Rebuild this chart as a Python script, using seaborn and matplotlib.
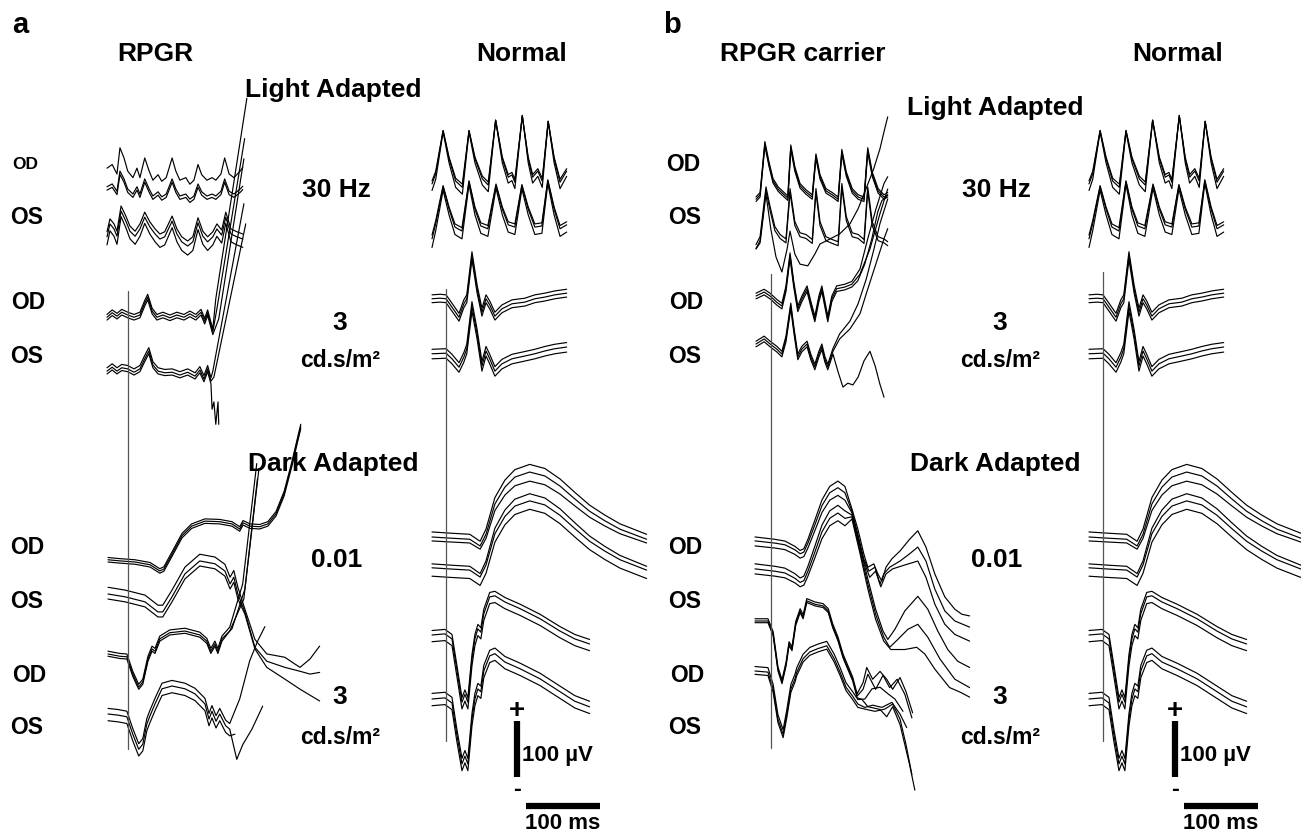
import numpy as np
import pandas as pd
import matplotlib
matplotlib.use("Agg")
import matplotlib.pyplot as plt
import seaborn as sns

# ---------------- calibration (scale bars) ----------------
PX_PER_MS = 0.74     # 100 ms  = 74 px
PX_PER_UV = 0.56     # 100 uV  = 56 px

# Normal, light adapted 30 Hz flicker
NORM_30HZ_OD_T = [0, 5, 15, 23, 32, 41, 50, 58, 68, 76, 86, 95, 103, 108, 112, 122, 130, 136, 143, 149, 157, 165, 173, 182]
NORM_30HZ_OD_V = [-7, 11, 88, 38, -2, -13, 88, 38, 2, -9, 107, 38, 5, 9, -4, 115, 38, 5, 16, -2, 105, 38, -4, 16]
NORM_30HZ_OD_OFF = [5, 0, -11]
NORM_30HZ_OD_GAIN = [0.95, 1.0, 1.1]

NORM_30HZ_OS_T = [0, 5, 15, 23, 31, 40.5, 50, 58, 66, 75.5, 86.5, 95, 103, 112, 121.5, 130, 139, 148.5, 156.5, 165, 173, 182]
NORM_30HZ_OS_V = [-14, 13, 79, 39, 7, 0, 88, 39, 9, 4, 82, 39, 11, 7, 81, 39, 7, 9, 90, 39, 4, 11]
NORM_30HZ_OS_OFF = [6, 0, -14]
NORM_30HZ_OS_GAIN = [0.95, 1.0, 1.1]

# Normal, light adapted 3 cd.s/m2
NORM_LA3_OD_T = [0, 11, 19, 27, 36.5, 43, 47, 54, 61, 67.5, 73, 78, 85, 94.5, 108, 125.5, 139, 152.5, 166, 182]
NORM_LA3_OD_V = [4, 5, 4, -11, -29, -5, 4, 81, 21, -20, 4, -7, -27, -14, -5, -2, 4, 7, 11, 14]
NORM_LA3_OD_OFF = [7, 0, -7]

NORM_LA3_OS_T = [0, 19, 27, 36.5, 43, 47, 54, 61, 67.5, 73, 78, 85, 94.5, 108, 125.5, 139, 152.5, 166, 182]
NORM_LA3_OS_V = [4, 5, -5, -20, -2, 13, 89, 39, -18, 9, -5, -27, -14, -5, 0, 4, 9, 13, 16]
NORM_LA3_OS_OFF = [8, 0, -9]

# Normal, dark adapted 0.01 (OD and OS, three each)
NORM_DA001_T = [0, 24, 51, 65, 73, 85, 98.5, 112, 132, 152.5, 173, 193, 213, 233.5, 254, 274, 290]
NORM_DA001_V = [0, -2, -4, -16, 5, 59, 89, 107, 116, 109, 91, 68, 46, 29, 14, 4, -4]
NORM_DA001_OFF = [9, 0, -7, -48, -55, -70]
NORM_DA001_GAIN = [1.04, 1.0, 0.92, 1.08, 1.03, 1.03]

# Normal, dark adapted 3 cd.s/m2
NORM_DA3_OD_T = [0, 17.5, 27, 33.5, 40.5, 44.5, 48.5, 54, 58, 62, 66, 70, 78, 85, 98.5, 119, 146, 173, 193, 213]
NORM_DA3_OD_V = [0, 2, -7, -61, -120, -106, -120, -43, -7, 11, 5, 38, 68, 70, 59, 47, 29, 7, -7, -16]
NORM_DA3_OD_OFF = [8, 0, -12]
NORM_DA3_OS_T = NORM_DA3_OD_T
NORM_DA3_OS_V = [0, 2, -7, -63, -116, -102, -116, -36, 0, 18, 13, 50, 77, 81, 66, 54, 36, 13, -4, -14]
NORM_DA3_OS_OFF = [10, 0, -12]

# RPGR patient (panel a)
RPGR_30HZ_OD_T = [0, 7, 13.5, 17.5, 23, 28, 35, 40.5, 44.5, 51, 57, 62, 69, 74, 80, 88, 93, 98.5, 106.5, 112, 117.5, 123, 128, 135, 142, 147, 154, 159, 165, 171.5, 180, 183.5]
RPGR_30HZ_OD_V = [4, 9, -4, 32, 18, 0, -9, 4, -9, 18, 0, -12.5, -5, -14, -9, 18, 0, -12.5, -9, -18, -12.5, 9, -5, -12.5, -9, -12.5, -4, 18, -4, -9, 0, 5]
RPGR_30HZ_OD_OFF = [32, 0, -6]
RPGR_30HZ_OD_GAIN = [1.3, 1.0, 1.0]

RPGR_30HZ_OS_T = [0, 4, 9.5, 13.5, 19, 25.5, 31, 38, 44.5, 51, 58, 65, 71.5, 78, 88, 94.5, 101, 109, 116, 123, 129.5, 136, 143, 148.5, 155, 160.5, 167.5, 175.5, 183.5]
RPGR_30HZ_OS_V = [-5, 18, 9, -4, 41, 23, 5, -4, 9, 30, 12.5, 0, -9, -5, 23, 0, -14, -21.5, -14, 20, -4, -14, -5, 9, -2, 30, 0, -5, -9]
RPGR_30HZ_OS_OFF = [9, 0, -14]
RPGR_30HZ_OS_GAIN = [1.0, 1.0, 1.1]

RPGR_LA3_OD_T = [0, 7, 13.5, 20, 28, 36.5, 44.5, 51, 55, 61, 67.5, 75.5, 85, 94.5, 104, 112, 120, 127, 132, 136, 140.5, 143]
RPGR_LA3_OD_V = [-4, 4, -2, 5, 0, -4, 0, 21, 32, 7, -4, 0, -5, 0, -4, 2, -4, 5, -11, 4, -18, -30]
RPGR_LA3_OD_OFF = [5, 0, -5]
RPGR_LA3_OD_TAILS = [([147, 189], [29, 387]), ([148.5, 186], [11, 315]), ([151, 185], [-7, 279])]

RPGR_LA3_OS_T = [0, 7, 13.5, 20, 28, 36.5, 44.5, 51, 56.5, 62, 69, 78, 88, 98.5, 109, 119, 125.5, 131, 136, 140.5]
RPGR_LA3_OS_V = [-2, 5, -2, 4, 2, -4, 2, 20, 34, 9, -2, -5, -4, -9, -4, -11, 0, -16, 2, -20]
RPGR_LA3_OS_OFF = [6, 0, -5]
RPGR_LA3_OS_TAILS = [([143, 185], [-2, 297]), ([144.5, 187.5], [-12.5, 261]),
                     ([142, 144.5, 147, 150, 151], [-70, -57, -97, -57, -97])]

RPGR_DA001_OD_T = [0, 16, 36.5, 57, 70, 75.5, 86.5, 100, 113, 131, 151, 167.5, 178, 182.5, 192, 205, 216, 227, 238, 248.5, 256.5, 260.5]
RPGR_DA001_OD_V = [4, 2, 0, -5, -16, -12.5, 14, 47, 64, 73, 72, 68, 59, 70, 64, 63, 68, 86, 122, 175, 220, 242]
RPGR_DA001_OD_OFF = [4, 0, -4]

RPGR_DA001_OS_T = [0, 23, 50, 67.5, 74, 86.5, 104, 124, 144.5, 158, 165, 170, 175.5]
RPGR_DA001_OS_V = [0, -5, -14, -32, -32, -5, 36, 59, 54, 41, 18, 30, 0]
RPGR_DA001_OS_OFF = [12, 0, -9]
RPGR_DA001_OS_TAILS = [([185, 198.5, 214.5, 239, 252.5, 259.5, 273, 286], [-27, -81, -107, -113, -125, -131, -116, -93]),
                       ([185, 198.5, 214.5, 239, 259.5, 273, 286], [-32, -95, -120, -131, -138, -143, -140]),
                       ([185, 198.5, 214.5, 239, 259.5, 286], [-36, -98, -131, -152, -170, -191])]

RPGR_DA3_OD_T = [0, 16, 25.5, 33.5, 41.5, 47, 54, 59.5, 63.5, 70, 83.5, 104, 124, 133.5, 139, 144.5, 148.5, 154]
RPGR_DA3_OD_V = [0, -4, -5, -36, -59, -50, -9, 9, 5, 27, 38, 41, 34, 23, 5, 18, 5, 27]
RPGR_DA3_OD_OFF = [5, 0, -4]
RPGR_DA3_OD_TAILS = [([164.5, 182, 201], [48, 125, 340]), ([167.5, 185, 204], [45, 116, 331]),
                     ([164.5, 183.5, 202], [41, 98, 313])]

RPGR_DA3_OS_T = [0, 13.5, 25.5, 33.5, 41.5, 47, 52.5, 56.5, 63.5, 73, 86.5, 104, 117.5, 131, 136.5, 140.5, 146, 151, 159, 164.5]
RPGR_DA3_OS_V = [0, -2, -5, -36, -63, -54, -18, -4, 18, 45, 50, 45, 36, 18, -9, 5, -13, 0, -21, -27]
RPGR_DA3_OS_OFF = [10, 0, -12]
RPGR_DA3_OS_TAILS = [([178, 191.5, 202.5, 212], [27, 95, 131, 156]),
                     ([174, 182, 194.5, 209], [-81, -55, -27, 14]),
                     ([171.5], [-36])]

# RPGR carrier (panel b)
CARR_30HZ_OD_T = [0, 5.5, 12, 17.5, 23, 30, 38, 43, 47, 52.5, 59.5, 67.5, 76, 81, 86.5, 94.5, 103, 111, 116, 122, 130, 138, 146, 151, 157, 165, 173, 178]
CARR_30HZ_OD_V = [-4, 4, 95, 59, 29, 14, 4, -2, 89, 50, 20, 9, 0, 73, 36, 11, 4, -4, 81, 41, 11, 0, -4, 84, 41, 11, 0, 4]
CARR_30HZ_OD_OFF = [4, 0, -4]

CARR_30HZ_OS_T = [0, 5.5, 13.5, 19, 25.5, 32.5, 40.5, 46, 52.5, 59.5, 67.5, 76, 81, 86.5, 94.5, 103, 111, 116, 122, 130, 138, 146, 151, 157, 165, 173, 178]
CARR_30HZ_OS_V = [-5, 9, 98, 63, 27, 13, 5, 95, 36, 16, 13, 4, 95, 36, 9, 4, 0, 104, 45, 16, 13, 4, 98, 36, 9, 5, 0]
CARR_30HZ_OS_OFF = [4, -3]
CARR_30HZ_OS_DRIFT_T = [0, 5.5, 13.5, 20, 27, 35, 42, 46, 52.5, 59.5, 70, 79.5, 86.5, 100, 113, 127, 138, 148.5, 159, 167.5, 174, 178]
CARR_30HZ_OS_DRIFT_V = [-9, 2, 89, 27, -23, -50, -9, 23, -18, -36, -39, -18, 0, 9, 18, 36, 63, 98, 134, 170, 206, 227]

CARR_LA3_OD_T = [0, 11, 19, 28, 35, 40.5, 46, 51, 56.5, 62, 69, 74, 79.5, 85, 89, 93, 97, 102.5, 109, 120, 129.5]
CARR_LA3_OD_V = [0, 7, 0, -11, -18, 13, 72, 21, -23, -5, 13, -14, -41, -5, 13, -14, -41, -5, 13, 16, 21]
CARR_LA3_OD_OFF = [5, 0, -5]
CARR_LA3_OD_TAILS = [([140.5, 151, 162, 173, 178], [48, 102, 155, 201, 213]),
                     ([140.5, 154, 167.5, 178], [39, 84, 147, 191]),
                     ([137.5, 147, 156.5, 164.5, 170, 178], [27, 57, 102, 150, 170, 180])]

CARR_LA3_OS_T = [0, 11, 19, 28, 35, 40.5, 47, 51, 56.5, 62, 69, 74, 79.5, 85, 89, 93, 97, 104]
CARR_LA3_OS_V = [0, 9, 0, -9, -18, 9, 68, 27, -23, -9, 0, -23, -41, -18, -5, -27, -41, -13]
CARR_LA3_OS_OFF = [5, 0, -5]
CARR_LA3_OS_TAILS = [([113, 127, 138, 149, 159.5, 167.5, 178], [18, 41, 72, 116, 170, 215, 259]),
                     ([113, 127, 140.5, 151, 162, 173, 178], [9, 27, 54, 98, 143, 188, 206]),
                     ([110.5, 117.5, 124, 131, 138, 146, 154, 161, 167.5, 173], [-48, -77, -70, -73, -59, -30, -13, -39, -72, -95])]

CARR_DA001_T = [0, 13.5, 27, 40.5, 54, 61, 66, 71.5, 81, 90.5, 101, 112, 121.5]
CARR_DA001_V = [0, -2, -4, -7, -16, -23, -20, -4, 29, 63, 86, 95, 86]
CARR_DA001_OFF = [9, 2, -7, -39, -48, -57]
CARR_DA001_GAIN = [1.05, 1.0, 0.95, 1.1, 1.05, 1.0]
CARR_DA001_TAILS = [
    ([131, 139, 147, 152.5, 160.5, 166, 171.5, 177, 185, 196, 209, 220, 231, 243, 256.5, 270, 279.5, 290],
     [59, 23, -21, -45, -39, -57, -70, -45, -30, -16, 5, 20, -9, -57, -98, -120, -129, -132]),
    ([131, 139, 147, 154, 162, 169, 174, 182, 196, 209, 220, 231, 243, 256.5, 270, 290],
     [55, 14, -30, -52, -45, -75, -57, -45, -34, -21, -9, -34, -84, -123, -141, -152]),
    ([131, 139, 147, 155, 163, 170, 177, 186, 202.5, 220, 231, 243, 256.5, 270, 290],
     [52, 9, -34, -63, -52, -80, -57, -48, -41, -34, -63, -111, -147, -165, -177]),
    ([131, 142, 152.5, 163, 173, 179.5, 189, 202.5, 220, 233.5, 247, 260.5, 274, 290],
     [48, -9, -66, -120, -159, -174, -156, -123, -97, -120, -159, -192, -213, -224]),
    ([131, 142, 152.5, 163, 174, 182, 193, 206.5, 220, 233.5, 250, 270, 290],
     [45, -16, -75, -129, -170, -188, -174, -156, -147, -170, -209, -245, -260]),
    ([131, 142, 152.5, 163, 174, 183.5, 202.5, 218.5, 229.5, 243, 263, 277, 290],
     [41, -21, -84, -138, -177, -192, -192, -188, -200, -227, -260, -268, -277]),
]

CARR_DA3_OD_T = [0, 17.5, 24.5, 31, 36.5, 42, 46, 50, 55, 61, 65, 70, 81, 92, 99, 105, 112, 119, 125, 132, 138]
CARR_DA3_OD_V = [0, 0, -23, -86, -109, -77, -41, -50, -5, 18, 7, 36, 30, 27, 18, -9, -32, -63, -82, -104, -134]
CARR_DA3_OD_OFF = [4, 0, -3]
CARR_DA3_OD_TAILS = [([146, 151, 159, 169, 178, 186, 196, 204, 213], [-110, -83, -104, -90, -104, -122, -101, -126, -164]),
                     ([146, 152.5, 163, 173, 182, 192, 202.5, 212], [-122, -95, -122, -97, -119, -104, -131, -173]),
                     ([144.5, 152.5, 169, 178, 186, 196, 202.5, 209, 216], [-140, -153, -158, -171, -153, -185, -221, -257, -302])]

CARR_DA3_OS_T = [0, 17.5, 24.5, 31, 38, 43, 48.5, 54, 56.5, 65, 74, 85, 97, 107, 115, 123, 132, 139]
CARR_DA3_OS_V = [0, -2, -32, -86, -113, -77, -32, -14, -2, 22, 34, 40, 45, 22, -2, -29, -45, -59]
CARR_DA3_OS_OFF = [8, 0, -6]
CARR_DA3_OS_TAILS = [([148.5, 158, 169, 180, 189, 200], [-50, -32, -29, -41, -50, -72]),
                     ([148.5, 159, 171.5, 185, 196, 205], [-65, -61, -65, -56, -77, -101]),
                     ([148.5, 162, 175.5, 186, 196, 204, 212], [-68, -72, -68, -59, -86, -131, -185])]

# ---------------- layout (pixel origins of each trace block) ----------------
NORMAL_SHIFT_B = 657
groups = [
    # (time, values, offsets, gains, tails, x0, y_baseline)
    (NORM_30HZ_OD_T, NORM_30HZ_OD_V, NORM_30HZ_OD_OFF, NORM_30HZ_OD_GAIN, None, 432, 181),
    (NORM_30HZ_OS_T, NORM_30HZ_OS_V, NORM_30HZ_OS_OFF, NORM_30HZ_OS_GAIN, None, 432, 232),
    (NORM_LA3_OD_T, NORM_LA3_OD_V, NORM_LA3_OD_OFF, None, None, 432, 302),
    (NORM_LA3_OS_T, NORM_LA3_OS_V, NORM_LA3_OS_OFF, None, None, 432, 357),
    (NORM_DA001_T, NORM_DA001_V, NORM_DA001_OFF, NORM_DA001_GAIN, None, 432, 538),
    (NORM_DA3_OD_T, NORM_DA3_OD_V, NORM_DA3_OD_OFF, None, None, 432, 636),
    (NORM_DA3_OS_T, NORM_DA3_OS_V, NORM_DA3_OS_OFF, None, None, 432, 700),
]
groups += [(t, v, o, g, tl, x0 + NORMAL_SHIFT_B, y0) for (t, v, o, g, tl, x0, y0) in groups]
groups += [
    (RPGR_30HZ_OD_T, RPGR_30HZ_OD_V, RPGR_30HZ_OD_OFF, RPGR_30HZ_OD_GAIN, None, 107, 190),
    (RPGR_30HZ_OS_T, RPGR_30HZ_OS_V, RPGR_30HZ_OS_OFF, RPGR_30HZ_OS_GAIN, None, 107, 235),
    (RPGR_LA3_OD_T, RPGR_LA3_OD_V, RPGR_LA3_OD_OFF, None, RPGR_LA3_OD_TAILS, 107, 316),
    (RPGR_LA3_OS_T, RPGR_LA3_OS_V, RPGR_LA3_OS_OFF, None, RPGR_LA3_OS_TAILS, 107, 371),
    (RPGR_DA001_OD_T, RPGR_DA001_OD_V, RPGR_DA001_OD_OFF, None, None, 108, 563),
    (RPGR_DA001_OS_T, RPGR_DA001_OS_V, RPGR_DA001_OS_OFF, None, RPGR_DA001_OS_TAILS, 108, 595),
    (RPGR_DA3_OD_T, RPGR_DA3_OD_V, RPGR_DA3_OD_OFF, None, RPGR_DA3_OD_TAILS, 108, 655),
    (RPGR_DA3_OS_T, RPGR_DA3_OS_V, RPGR_DA3_OS_OFF, None, RPGR_DA3_OS_TAILS, 108, 715),
    (CARR_30HZ_OD_T, CARR_30HZ_OD_V, CARR_30HZ_OD_OFF, None, None, 756, 198),
    (CARR_30HZ_OS_T, CARR_30HZ_OS_V, CARR_30HZ_OS_OFF, None, None, 756, 245),
    (CARR_30HZ_OS_DRIFT_T, CARR_30HZ_OS_DRIFT_V, [0], None, None, 756, 245),
    (CARR_LA3_OD_T, CARR_LA3_OD_V, CARR_LA3_OD_OFF, None, CARR_LA3_OD_TAILS, 756, 297),
    (CARR_LA3_OS_T, CARR_LA3_OS_V, CARR_LA3_OS_OFF, None, CARR_LA3_OS_TAILS, 756, 345),
    (CARR_DA001_T, CARR_DA001_V, CARR_DA001_OFF, CARR_DA001_GAIN, CARR_DA001_TAILS, 755, 543),
    (CARR_DA3_OD_T, CARR_DA3_OD_V, CARR_DA3_OD_OFF, None, CARR_DA3_OD_TAILS, 755, 622),
    (CARR_DA3_OS_T, CARR_DA3_OS_V, CARR_DA3_OS_OFF, None, CARR_DA3_OS_TAILS, 755, 672),
]

rows = []
tid = 0
for (t, v, offs, gains, tails, x0, y0) in groups:
    t = np.asarray(t, float)
    v = np.asarray(v, float)
    for k, off in enumerate(offs):
        g = gains[k] if gains is not None else 1.0
        tt = list(t)
        vv = list(v * g + off)
        if tails is not None and tails[k] is not None:
            tt += list(tails[k][0])
            vv += list(tails[k][1])
        xs = x0 + np.asarray(tt) * PX_PER_MS
        ys = y0 - np.asarray(vv) * PX_PER_UV
        for i, (xx, yy) in enumerate(zip(xs, ys)):
            rows.append((tid, i, xx, yy))
        tid += 1
df = pd.DataFrame(rows, columns=["trace", "i", "x", "y"])

# ---------------- figure ----------------
sns.set_theme(style="white")
plt.rcParams["font.family"] = ["Liberation Sans", "DejaVu Sans"]
plt.rcParams["text.color"] = "black"

fig = plt.figure(figsize=(13.01, 8.37), dpi=100)
ax = fig.add_axes([0, 0, 1, 1])
sns.lineplot(data=df, x="x", y="y", units="trace", estimator=None, sort=False,
             color="black", linewidth=0.85, ax=ax, legend=False)

# stimulus onset markers
for (xs, y_top, y_bot) in [(128, 292, 750), (446, 290, 742), (771, 275, 749), (1103, 273, 742)]:
    ax.plot([xs, xs], [y_top, y_bot], color="#555555", lw=0.9)

ax.set_xlim(0, 1301)
ax.set_ylim(837, 0)
ax.axis("off")

B = dict(fontweight="bold", ha="center", va="center", color="black")
for dx, label, head in [(0, "a", "RPGR"), (650, "b", "RPGR carrier")]:
    ax.text(20 + dx + (2 if dx else 0), 25, label, fontsize=21, **B)
    ax.text((155 if dx == 0 else 803), 54, head, fontsize=19, **B)
    ax.text(522 + dx + (6 if dx else 0), 54, "Normal", fontsize=19, **B)
    lx = 333 + dx + (12 if dx else 0)
    ax.text(lx, 90 if dx == 0 else 108, "Light Adapted", fontsize=19, **B)
    ax.text(lx, 464, "Dark Adapted", fontsize=19, **B)
    cx = 336 + dx + (10 if dx else 0)
    ax.text(cx, 190, "30 Hz", fontsize=19, **B)
    ax.text(cx + 4, 323, "3", fontsize=19, **B)
    ax.text(cx + 4, 360, "cd.s/m²", fontsize=16.5, **B)
    ax.text(cx + 1, 560, "0.01", fontsize=19, **B)
    ax.text(cx + 4, 697, "3", fontsize=19, **B)
    ax.text(cx + 4, 737, "cd.s/m²", fontsize=16.5, **B)
    ex = 27 + dx + (8 if dx else 0)
    ax.text(ex - 2, 164, "OD", fontsize=(12.5 if dx == 0 else 16.5), **B)
    ax.text(ex, 217, "OS", fontsize=16.5, **B)
    ax.text(ex + 1, 302, "OD", fontsize=16.5, **B)
    ax.text(ex, 356, "OS", fontsize=16.5, **B)
    ax.text(ex, 548, "OD", fontsize=16.5, **B)
    ax.text(ex, 602, "OS", fontsize=16.5, **B)
    ax.text(ex + 2, 675, "OD", fontsize=16.5, **B)
    ax.text(ex, 728, "OS", fontsize=16.5, **B)
    # scale bars
    sx = 517 + dx + (8 if dx else 0)
    ax.plot([sx, sx], [722, 722 + 100 * PX_PER_UV], color="black", lw=4.5, solid_capstyle="butt")
    ax.plot([sx + 9, sx + 9 + 100 * PX_PER_MS], [807, 807], color="black", lw=4.5, solid_capstyle="butt")
    ax.text(sx, 711, "+", fontsize=20, **B)
    ax.text(sx, 790, "-", fontsize=17, **B)
    ax.text(sx + 5, 756, "100 µV", fontsize=16, fontweight="bold", ha="left", va="center", color="black")
    ax.text(sx + 9 + 50 * PX_PER_MS, 824, "100 ms", fontsize=16, **B)

fig.savefig("out.png", dpi=100, facecolor="white")
